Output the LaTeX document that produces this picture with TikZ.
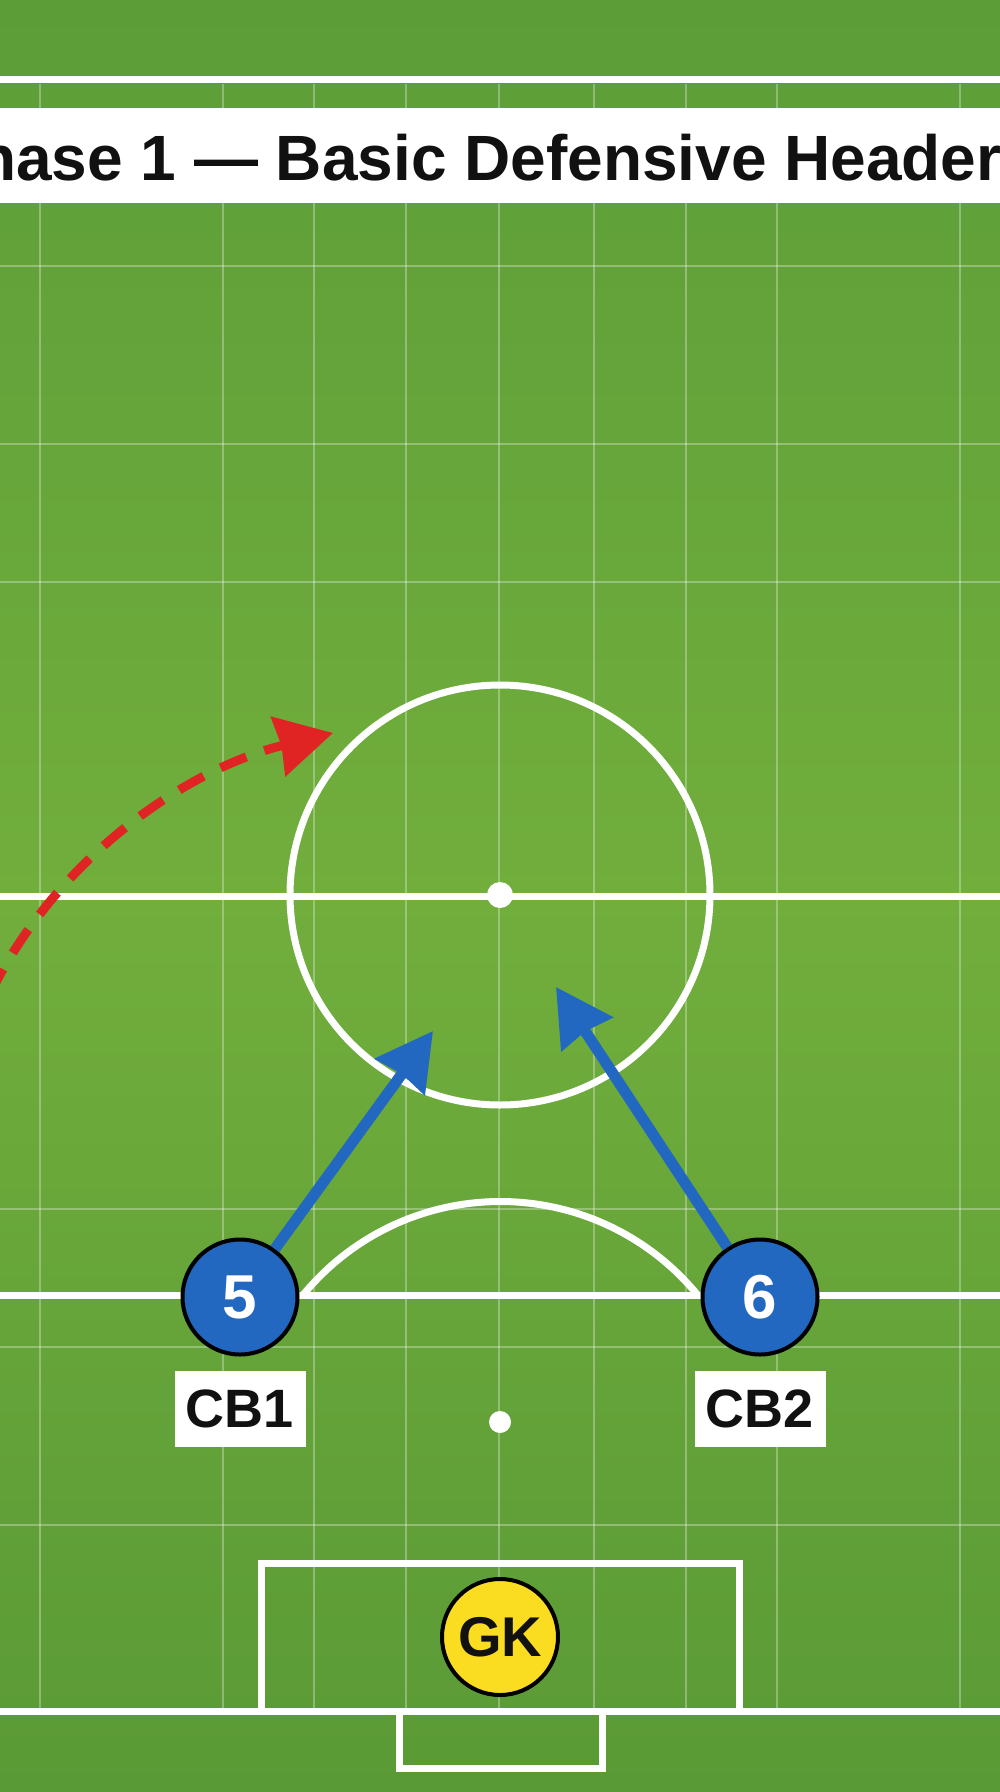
\documentclass[tikz,border=0pt]{standalone}
\usepackage{fontspec}
\setmainfont{Liberation Sans}
\usetikzlibrary{arrows.meta}
\definecolor{pblue}{RGB}{34,104,192}
\definecolor{pred}{RGB}{224,36,36}
\definecolor{gkyellow}{RGB}{250,220,32}
\definecolor{gtop}{RGB}{92,157,56}
\definecolor{gmid}{RGB}{113,174,60}
\definecolor{gbot}{RGB}{90,154,54}
\definecolor{inkblack}{RGB}{17,17,17}
\begin{document}
\begin{tikzpicture}[x=0.5pt,y=0.5pt,
  pitchline/.style={draw=white, line width=3.5pt},
  gridline/.style={draw=white, opacity=0.3, line width=1pt},
  player/.style={circle, draw=black, line width=2pt, fill=pblue, minimum size=57.5pt, inner sep=0pt, text=white, font=\fontsize{31}{31}\selectfont\bfseries},
  keeper/.style={circle, draw=black, line width=2pt, fill=gkyellow, minimum size=58pt, inner sep=0pt, text=inkblack, font=\fontsize{28}{28}\selectfont\bfseries},
  tag/.style={fill=white, minimum width=65.5pt, minimum height=38pt, inner sep=0pt, text=inkblack, font=\fontsize{27}{27}\selectfont\bfseries},
  runarrow/.style={draw=pblue, line width=5.5pt, -{Stealth[length=28pt,width=30pt,inset=1.5pt]}},
  ballarrow/.style={draw=pred, line width=4.5pt, dash pattern=on 14pt off 9.5pt, -{Stealth[length=28pt,width=30pt,inset=1.5pt]}}
]
\useasboundingbox (0,0) rectangle (1000,-1792);
% turf
\shade[top color=gtop, bottom color=gbot, middle color=gmid] (0,0) rectangle (1000,-1792);
% grid
\foreach \x in {40,223,314,406,499,594,686,777,960} \draw[gridline] (\x,-84) -- (\x,-1711);
\foreach \y in {266,444,582,1209,1347,1525} \draw[gridline] (0,-\y) -- (1000,-\y);
% pitch markings
\draw[pitchline] (0,-80) -- (1000,-80);
\draw[pitchline] (0,-896) -- (1000,-896);
\draw[pitchline] (500,-895) circle (210);
\fill[white] (500,-895) circle (13);
\draw[pitchline] (0,-1295) -- (1000,-1295);
\draw[pitchline] (303,-1295) arc[start angle=140.7, end angle=39.3, radius=255];
\fill[white] (500,-1422) circle (11);
\draw[pitchline] (261,-1711) -- (261,-1563) -- (739,-1563) -- (739,-1711);
\draw[pitchline] (0,-1711) -- (1000,-1711);
\draw[pitchline] (399,-1711) -- (399,-1768) -- (602,-1768) -- (602,-1711);
% title band
\fill[white] (-10,-108) rectangle (1010,-203);
\node (title) [anchor=base west, inner sep=0pt, text=inkblack, font=\fontsize{32}{32}\selectfont\bfseries] at (-66,-181) {Phase 1 — Basic Defensive Header};
% players
\node[player] (p5) at (240,-1297) {5};
\node[player] (p6) at (760,-1297) {6};
\node[tag] (cb1) at (240,-1409) {CB1};
\node[tag] (cb2) at (760,-1409) {CB2};
\node[keeper] (gk) at (500,-1637) {GK};
% runs
\coordinate (t5) at (433,-1031);
\coordinate (t6) at (556,-987);
\draw[runarrow] (p5) -- (t5);
\draw[runarrow] (p6) -- (t6);
% ball flight
\coordinate (ballstart) at (-10,-994);
\coordinate (balltip) at (333,-733);
\draw[ballarrow] (ballstart) .. controls (56.4,-858) and (186.5,-769) .. (balltip);
\end{tikzpicture}
\end{document}
